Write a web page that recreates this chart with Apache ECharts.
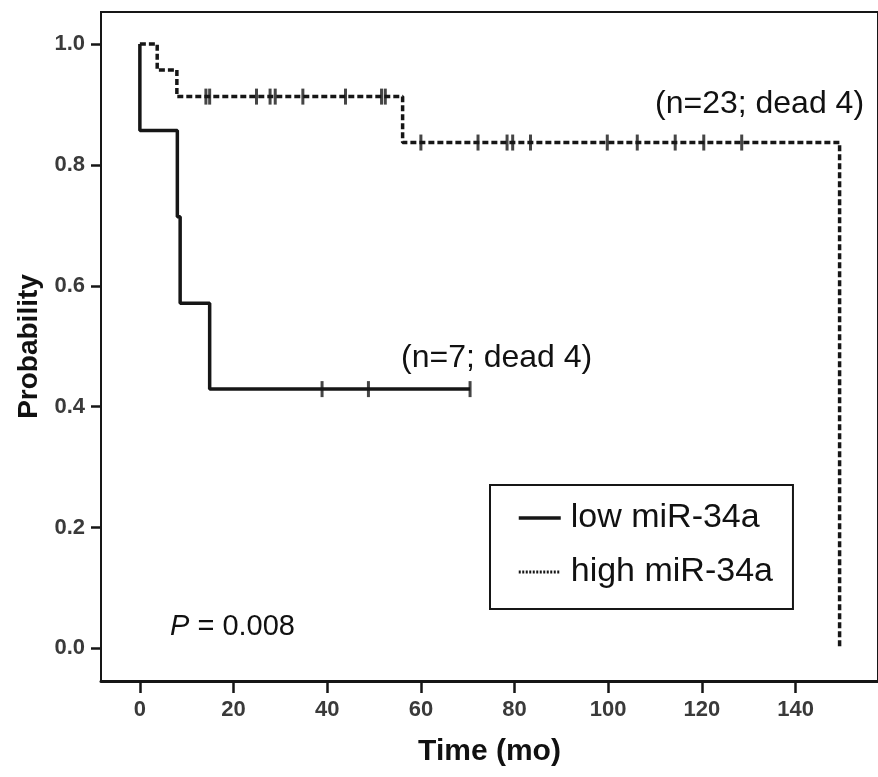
<!doctype html>
<html lang="en">
<head>
  <meta charset="UTF-8">
  <title>miR-34a survival</title>
  <script src="https://cdn.jsdelivr.net/npm/echarts@6/dist/echarts.min.js"></script>
  <style>
    html, body { margin: 0; padding: 0; background: #fff; }
    #chart { width: 878px; height: 777px; }
  </style>
</head>
<body>
<div id="chart"></div>
<script>
  // Kaplan-Meier steps (months, probability)
  var lowTimes = [0, 0, 8.0, 8.6, 14.9, 70.5];
  var lowSurvival = [1, 0.857, 0.714, 0.571, 0.429, 0.429];
  var lowCensored = [38.9, 48.8, 70.5];

  var highTimes = [0, 3.7, 7.9, 56.1, 149.4];
  var highSurvival = [1, 0.957, 0.913, 0.837, 0];
  var highCensored = [14.1, 14.9, 24.9, 27.8, 28.9, 34.8, 43.9, 51.6, 52.4,
                      60.0, 72.2, 78.4, 79.6, 83.4, 99.8, 106.2, 114.3, 120.4, 128.5];

  var xTicks = [0, 20, 40, 60, 80, 100, 120, 140];
  var yTicks = [0, 0.2, 0.4, 0.6, 0.8, 1.0];
  var groupNames = ['low miR-34a', 'high miR-34a'];

  function pairs(times, surv) {
    return times.map(function (t, i) { return [t, surv[i]]; });
  }
  // survival level at a censoring time = last step at or before it
  function censorPoints(times, surv, censored) {
    return censored.map(function (c) {
      var v = surv[0];
      for (var i = 0; i < times.length; i++) {
        if (times[i] <= c) v = surv[i];
      }
      return [c, v];
    });
  }

  var ink = '#161616';
  var chart = echarts.init(document.getElementById('chart'));

  var option = {
    backgroundColor: '#fff',
    animation: false,
    grid: {
      left: 101, top: 12, right: -4, bottom: 96,
      show: true, borderColor: ink, borderWidth: 2
    },
    xAxis: {
      type: 'value',
      min: -8.3, max: 157.6,
      name: 'Time (mo)',
      nameLocation: 'middle',
      nameGap: 56,
      nameTextStyle: { fontFamily: 'Liberation Sans', fontWeight: 'bold', fontSize: 30, color: '#111' },
      axisLine: { onZero: false, lineStyle: { color: ink, width: 3 } },
      axisTick: { show: true, length: 12, customValues: xTicks, lineStyle: { color: ink, width: 2.5 } },
      axisLabel: {
        customValues: xTicks, margin: 18,
        fontFamily: 'Liberation Sans Narrow, Liberation Sans', fontWeight: 'bold', fontSize: 22, color: '#3a3a3a'
      },
      splitLine: { show: false }
    },
    yAxis: {
      type: 'value',
      min: -0.054, max: 1.053,
      name: 'Probability',
      nameLocation: 'middle',
      nameGap: 58,
      nameTextStyle: { fontFamily: 'Liberation Sans', fontWeight: 'bold', fontSize: 28, color: '#111' },
      axisLine: { show: true, onZero: false, lineStyle: { color: ink, width: 2 } },
      axisTick: { show: true, length: 10, customValues: yTicks, lineStyle: { color: ink, width: 2.5 } },
      axisLabel: {
        customValues: yTicks, margin: 16,
        formatter: function (v) { return v.toFixed(1); },
        fontFamily: 'Liberation Sans Narrow, Liberation Sans', fontWeight: 'bold', fontSize: 22, color: '#3a3a3a'
      },
      splitLine: { show: false }
    },
    legend: {
      data: [
        { name: groupNames[0], lineStyle: { width: 3.5 } },
        { name: groupNames[1], lineStyle: { width: 3, type: [2, 1.5] } }
      ],
      orient: 'vertical',
      left: 490, top: 485,
      borderColor: ink, borderWidth: 2,
      padding: [16, 20, 20, 27],
      itemGap: 20,
      itemWidth: 42, itemHeight: 14,
      itemStyle: { opacity: 0 },
      textStyle: { fontFamily: 'Liberation Sans', fontSize: 34, color: '#111', padding: [0, 0, 0, 5] }
    },
    series: [
      {
        name: groupNames[0],
        type: 'line',
        step: 'end',
        symbol: 'none',
        data: pairs(lowTimes, lowSurvival),
        lineStyle: { color: ink, width: 3.5 },
        itemStyle: { color: ink }
      },
      {
        name: groupNames[1],
        type: 'line',
        step: 'end',
        symbol: 'none',
        data: pairs(highTimes, highSurvival),
        lineStyle: { color: ink, width: 3.5, type: [6, 3] },
        itemStyle: { color: ink }
      },
      {
        name: 'low censored',
        type: 'scatter',
        symbol: 'rect',
        symbolSize: [3, 16],
        data: censorPoints(lowTimes, lowSurvival, lowCensored),
        itemStyle: { color: ink }
      },
      {
        name: 'high censored',
        type: 'scatter',
        symbol: 'rect',
        symbolSize: [3, 16],
        data: censorPoints(highTimes, highSurvival, highCensored),
        itemStyle: { color: ink }
      }
    ],
    graphic: [
      {
        type: 'text', x: 655, y: 104,
        style: { text: '(n=23; dead 4)', fontFamily: 'Liberation Sans', fontSize: 32, fill: '#111', verticalAlign: 'middle' }
      },
      {
        type: 'text', x: 401, y: 358,
        style: { text: '(n=7; dead 4)', fontFamily: 'Liberation Sans', fontSize: 32, fill: '#111', verticalAlign: 'middle' }
      },
      {
        type: 'text', x: 170, y: 627,
        style: {
          text: '{i|P} = 0.008',
          fontFamily: 'Liberation Sans', fontSize: 29, fill: '#111', verticalAlign: 'middle',
          rich: { i: { fontStyle: 'italic', fontFamily: 'Liberation Sans', fontSize: 29, fill: '#111' } }
        }
      }
    ]
  };

  chart.setOption(option);
</script>
</body>
</html>
